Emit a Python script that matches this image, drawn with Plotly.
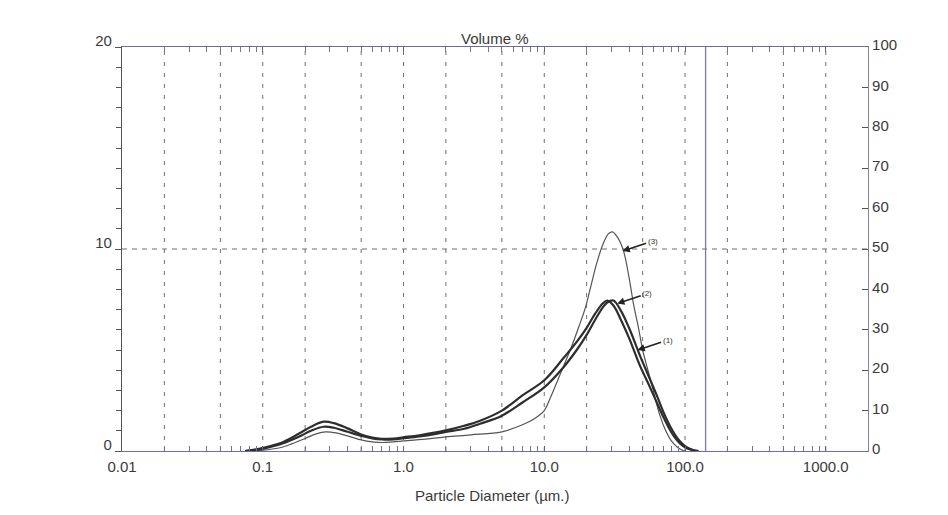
import plotly.graph_objects as go
import numpy as np

# ---------------- data ----------------
d1 = [0.075, 0.09, 0.11, 0.14, 0.18, 0.22, 0.27, 0.32, 0.4, 0.5, 0.6, 0.7, 0.85, 1.0, 1.3, 1.7,
      2.0, 2.7, 3.5, 5.0, 7.0, 10, 13.7, 17, 20, 23, 26, 28, 31, 35, 40, 48, 56, 63, 70, 78, 85,
      92, 102, 114, 122]
v1 = [0, 0.08, 0.22, 0.45, 0.85, 1.2, 1.45, 1.38, 1.12, 0.82, 0.66, 0.6, 0.62, 0.68, 0.78, 0.92,
      1.02, 1.25, 1.5, 2.0, 2.75, 3.5, 4.6, 5.4, 6.1, 6.8, 7.3, 7.45, 7.2, 6.5, 5.6, 4.2, 3.2, 2.4,
      1.7, 1.05, 0.65, 0.38, 0.15, 0.04, 0]

d2 = [0.075, 0.09, 0.11, 0.14, 0.18, 0.22, 0.27, 0.32, 0.4, 0.5, 0.6, 0.7, 0.85, 1.0, 1.3, 1.7,
      2.0, 2.7, 3.5, 5.0, 7.0, 10, 13.7, 17, 20, 23, 26, 28, 31, 35, 40, 48, 56, 63, 70, 78, 85,
      92, 102, 114, 125]
v2 = [0, 0.06, 0.18, 0.38, 0.7, 1.0, 1.2, 1.15, 0.95, 0.75, 0.62, 0.57, 0.58, 0.63, 0.72, 0.85,
      0.95, 1.1, 1.35, 1.75, 2.4, 3.15, 4.15, 5.0, 5.75, 6.5, 7.1, 7.35, 7.45, 6.95, 6.1, 4.7,
      3.6, 2.75, 1.95, 1.25, 0.8, 0.48, 0.2, 0.05, 0]

d3 = [0.08, 0.1, 0.13, 0.16, 0.2, 0.24, 0.28, 0.33, 0.4, 0.5, 0.6, 0.7, 0.85, 1.0, 1.5, 2.0, 3.0,
      5.0, 7.0, 8.5, 10, 11, 12.3, 13.7, 15.3, 17.5, 19.6, 21.5, 23.6, 26, 28.5, 30.5, 33, 36.4,
      40, 43, 47, 50, 55, 60, 66, 73, 80, 88, 95, 100]
v3 = [0, 0.04, 0.15, 0.35, 0.62, 0.85, 0.95, 0.9, 0.75, 0.55, 0.45, 0.42, 0.45, 0.5, 0.6, 0.7,
      0.8, 0.95, 1.3, 1.6, 2.0, 2.6, 3.4, 4.2, 5.0, 6.1, 7.1, 8.2, 9.3, 10.2, 10.75, 10.85, 10.6,
      9.95, 8.6, 7.3, 6.0, 5.0, 3.9, 2.9, 1.8, 1.0, 0.5, 0.2, 0.05, 0]

x_tick_vals = [0.01, 0.1, 1, 10, 100, 1000]
x_tick_text = ["0.01", "0.1", "1.0", "10.0", "100.0", "1000.0"]
x_grid_vals = [0.02, 0.05, 0.1, 0.2, 0.5, 1, 2, 5, 10, 20, 50, 100, 200, 500, 1000]
x_minor_vals = [m * 10.0 ** e for e in range(-2, 4) for m in range(2, 10)]
marker_diameter = 140
y_left_ticks = [0, 10, 20]
y_right_ticks = list(range(0, 101, 10))
h_grid_val = 10

curve_labels = ["(1)", "(2)", "(3)"]
label_points = [(46, 5.0), (33, 7.3), (36, 9.9)]

FONT = "Liberation Sans Narrow, Liberation Sans, Arial, sans-serif"
AXIS_BLUE = "#6c6ca8"

fig = go.Figure()

fig.add_trace(go.Scatter(x=d3, y=v3, mode="lines", line=dict(color="#555555", width=1.2, shape="spline"),
                         showlegend=False, hoverinfo="skip"))
fig.add_trace(go.Scatter(x=d1, y=v1, mode="lines", line=dict(color="#2e2e2e", width=2.2, shape="spline"),
                         showlegend=False, hoverinfo="skip"))
fig.add_trace(go.Scatter(x=d2, y=v2, mode="lines", line=dict(color="#2e2e2e", width=2.2, shape="spline"),
                         showlegend=False, hoverinfo="skip"))
# invisible trace for the right-hand axis
fig.add_trace(go.Scatter(x=[0.01], y=[0], yaxis="y2", mode="markers", marker=dict(opacity=0),
                         showlegend=False, hoverinfo="skip"))

# grid lines
for gv in x_grid_vals:
    fig.add_shape(type="line", xref="x", yref="paper", x0=gv, x1=gv, y0=0, y1=1,
                  line=dict(color="#707070", width=1, dash="4px,7px"), layer="below")
fig.add_shape(type="line", xref="paper", yref="y", x0=0, x1=1, y0=h_grid_val, y1=h_grid_val,
              line=dict(color="#707070", width=1.2, dash="5px,5px"), layer="below")
fig.add_shape(type="line", xref="x", yref="paper", x0=marker_diameter, x1=marker_diameter, y0=0, y1=1,
              line=dict(color="#7a7aa8", width=1.3), layer="below")

# curve labels
for lab, (px_, py_) in zip(curve_labels, label_points):
    fig.add_annotation(x=np.log10(px_), y=py_, xref="x", yref="y", text=lab, showarrow=True,
                       arrowhead=2, arrowsize=0.9, arrowwidth=1.6, arrowcolor="#222",
                       ax=30, ay=-10, font=dict(size=8, color="#333", family=FONT))

fig.add_annotation(x=0.5, y=1.0, xref="paper", yref="paper", yanchor="bottom", yshift=-2,
                   text="Volume %", showarrow=False, font=dict(size=15, color="#3a3a3a", family=FONT))
fig.add_annotation(x=0.497, y=-0.085, xref="paper", yref="paper", yanchor="top",
                   text="Particle Diameter (µm.)", showarrow=False,
                   font=dict(size=15, color="#3a3a3a", family=FONT))

fig.update_layout(
    width=940, height=507,
    margin=dict(l=114, r=80, t=39, b=64),
    paper_bgcolor="white", plot_bgcolor="white",
    font=dict(family=FONT, color="#3a3a3a", size=15),
    xaxis=dict(type="log", range=[-2, 3.3], tickvals=x_tick_vals, ticktext=x_tick_text,
               showgrid=False, zeroline=False, showline=True, linecolor=AXIS_BLUE, linewidth=1.3,
               mirror="allticks", ticks="inside", ticklen=5, tickcolor="#666",
               minor=dict(tickvals=x_minor_vals, ticks="inside", ticklen=3, tickcolor="#777",
                          showgrid=False),
               ticklabelstandoff=2,
               tickfont=dict(size=15, color="#3a3a3a")),
    yaxis=dict(range=[0, 20], tickvals=y_left_ticks, showgrid=False, zeroline=False,
               showline=True, linecolor="#555", linewidth=1.2, ticks="outside", ticklen=6,
               tickcolor="#555", minor=dict(dtick=1, ticks="outside", ticklen=5, tickcolor="#555",
                                            showgrid=False),
               ticklabelshift=-6,
               tickfont=dict(size=15, color="#3a3a3a")),
    yaxis2=dict(range=[0, 100], tickvals=y_right_ticks, overlaying="y", side="right", anchor="x",
                showgrid=False, zeroline=False, showline=True, linecolor="#8080a8", linewidth=1.2,
                ticks="inside", ticklen=6, tickcolor="#555", ticklabelshift=-2,
                tickfont=dict(size=15, color="#3a3a3a")),
)

fig.write_html("out.html")
